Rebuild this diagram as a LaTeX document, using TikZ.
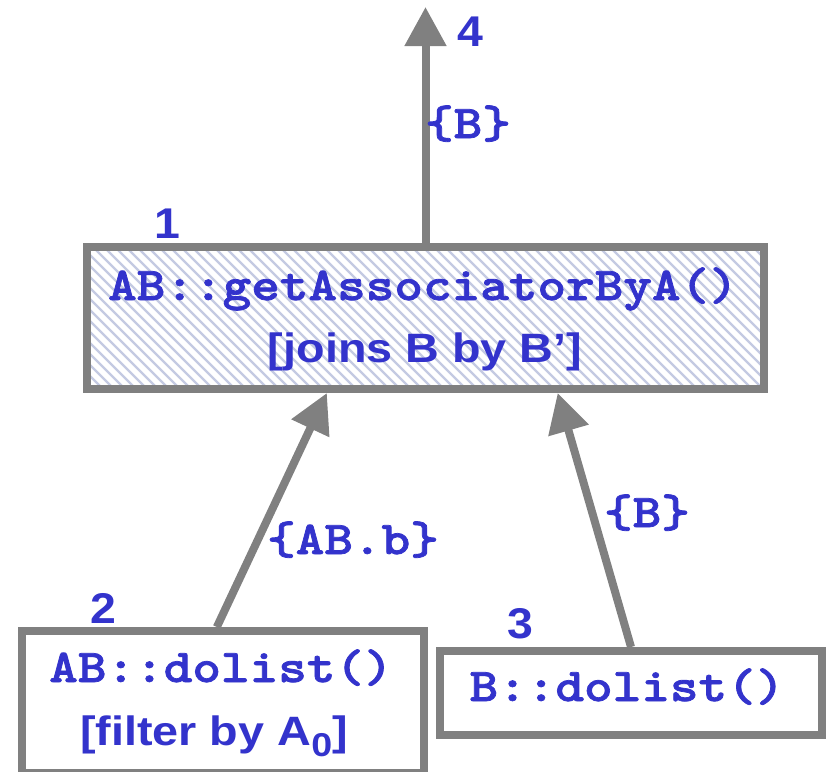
\documentclass[tikz,border=0pt]{standalone}
\usepackage{fontspec}
\usetikzlibrary{arrows.meta,calc}
\newfontfamily\codefont[FakeStretch=1.16,FakeBold=1.6]{lmmonolt10-bold.otf}
\newfontfamily\labelfont[FakeStretch=1.14]{Liberation Sans}
\newfontfamily\numfont[FakeStretch=1.08]{Liberation Sans}
\definecolor{ink}{RGB}{51,51,204}
\definecolor{edge}{RGB}{128,128,128}
\definecolor{hatchc}{RGB}{196,202,226}
\begin{document}
\begin{tikzpicture}[x=1pt,y=-1pt,
  box/.style={draw=edge,line width=8pt,fill=white,inner sep=0pt},
  hatched/.style={path picture={
    \foreach \k in {0,11,...,880}{
      \draw[hatchc,line width=2.4pt]
        ([xshift=\k pt-170pt]path picture bounding box.north west) -- ++(170pt,-170pt);
    }}},
  conn/.style={draw=edge,line width=8pt,-{Triangle[length=39pt,width=40pt]}},
  code/.style={text=ink,font=\codefont\fontsize{47}{52}\selectfont,anchor=base,inner sep=0pt},
  sans/.style={text=ink,font=\labelfont\bfseries\fontsize{41}{48}\selectfont,anchor=base,inner sep=0pt},
  num/.style={text=ink,font=\numfont\bfseries\fontsize{43}{48}\selectfont,anchor=base,inner sep=0pt}]
\useasboundingbox (0,0) rectangle (829,771);

% boxes
\node[box,hatched,minimum width=677pt,minimum height=142pt] (b1) at (425.5,318) {};
\node[box,minimum width=402pt,minimum height=142pt] (b2) at (223,702) {};
\node[box,minimum width=382pt,minimum height=84pt] (b3) at (631,693) {};

% box contents
\node[code] (t1a) at (423,300) {AB::getAssociatorByA()};
\node[sans] (t1b) at (425,362) {[joins B by B’]};
\node[code] (t2a) at (221,682) {AB::dolist()};
\node[sans] (t2b) at (214,745) {[filter by A\raisebox{-11pt}{\fontsize{33}{33}\selectfont 0}]};
\node[code] (t3) at (627,701) {B::dolist()};

% step numbers
\node[num] (n1) at (167,238) {1};
\node[num] (n2) at (103,623) {2};
\node[num] (n3) at (520,638) {3};
\node[num] (n4) at (470,46) {4};

% connectors
\coordinate (out) at (425.5,7);
\draw[conn] (b1.north) -- (out);
\draw[conn] ($(b2.north west)!0.485!(b2.north east)$) -- ($(b1.south west)!0.356!(b1.south east)$);
\draw[conn] (b3.north) -- ($(b1.south west)!0.693!(b1.south east)$);

% connector labels
\node[code] (l4) at (468,138) {\{B\}};
\node[code] (l2) at (353,554) {\{AB.b\}};
\node[code] (l3) at (647,527) {\{B\}};
\end{tikzpicture}
\end{document}
